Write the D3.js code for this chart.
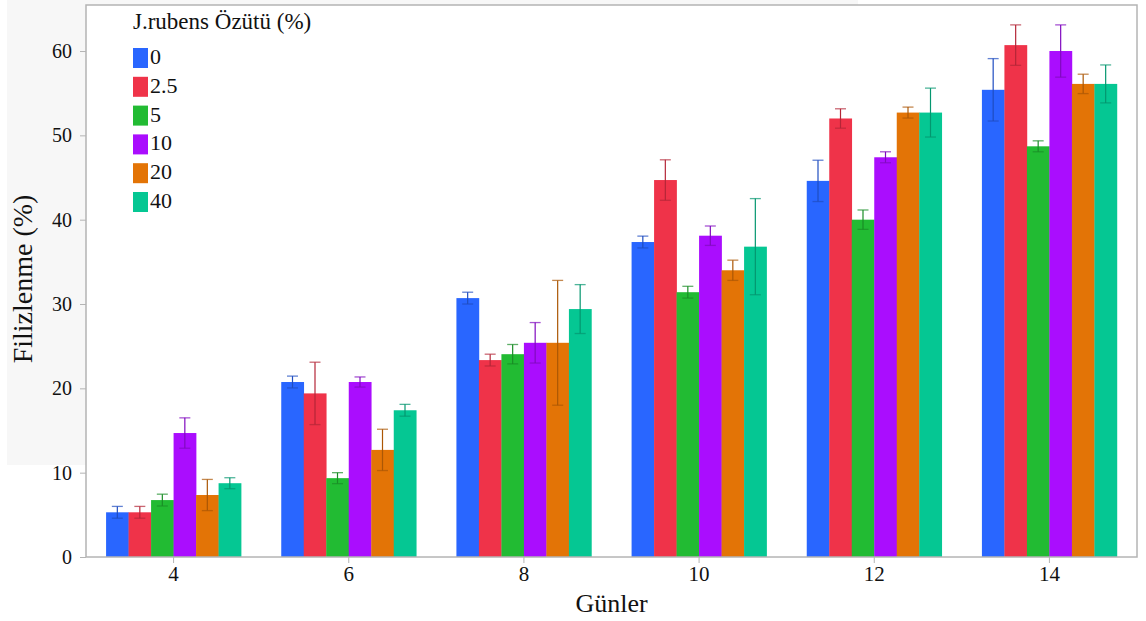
<!DOCTYPE html>
<html><head><meta charset="utf-8">
<script src="https://cdn.jsdelivr.net/npm/d3@7"></script>
<style>body{margin:0;background:#fff}svg{display:block}</style>
</head><body>
<svg id="c" width="1146" height="621"></svg>
<script>
const days = ["4","6","8","10","12","14"];
const series = ["0","2.5","5","10","20","40"];
const colors = ["#2966FF","#EF3349","#22BB33","#AA0DFE","#E37406","#05C793"];
// mean values per series (index by day)
const v0   = [5.3, 20.75, 30.7, 37.35, 44.6, 55.4];
const v2_5 = [5.3, 19.4, 23.35, 44.7, 52.0, 60.7];
const v5   = [6.75, 9.35, 24.05, 31.4, 40.0, 48.7];
const v10  = [14.7, 20.75, 25.4, 38.1, 47.4, 60.0];
const v20  = [7.35, 12.7, 25.4, 34.0, 52.7, 56.1];
const v40  = [8.75, 17.4, 29.4, 36.8, 52.7, 56.1];
// error (+/-) per series
const e0   = [0.7, 0.7, 0.7, 0.7, 2.45, 3.7];
const e2_5 = [0.7, 3.7, 0.7, 2.4, 1.15, 2.4];
const e5   = [0.7, 0.65, 1.15, 0.7, 1.15, 0.65];
const e10  = [1.8, 0.6, 2.4, 1.15, 0.65, 3.1];
const e20  = [1.85, 2.45, 7.4, 1.2, 0.65, 1.15];
const e40  = [0.65, 0.7, 2.9, 5.7, 2.9, 2.25];
const yTicks = [0,10,20,30,40,50,60];
const values = [v0,v2_5,v5,v10,v20,v40];
const errors = [e0,e2_5,e5,e10,e20,e40];

const svg = d3.select("#c");
const L=86, R=1137, T=5, B=557;
svg.append("rect").attr("x",7).attr("y",0).attr("width",851).attr("height",465).attr("fill","#f7f7f7");
svg.append("rect").attr("x",L).attr("y",T).attr("width",R-L).attr("height",B-T).attr("fill","#fff");

const x0 = d3.scaleBand().domain(days).range([L,R]).padding(0);
const groupW = 135;
const x1 = d3.scaleBand().domain(series).range([0,groupW]).padding(0);
const y = d3.scaleLinear().domain([0,60]).range([B, B-60*8.433]);

const data = [];
days.forEach((d,i)=>series.forEach((s,j)=>data.push({d,s,j,v:values[j][i],e:errors[j][i]})));

const g = svg.append("g");
const gx = d => x0(d) + (x0.bandwidth()-groupW)/2;
g.selectAll("rect.bar").data(data).join("rect").attr("class","bar")
 .attr("x",d=>gx(d.d)+x1(d.s)).attr("width",x1.bandwidth()+0.3)
 .attr("y",d=>y(d.v)).attr("height",d=>B-y(d.v)).attr("fill",d=>colors[d.j]);

const eg = g.selectAll("g.err").data(data).join("g").attr("class","err");
eg.each(function(d){
  const cx = gx(d.d)+x1(d.s)+x1.bandwidth()/2;
  const col = d3.color(colors[d.j]).darker(0.8).formatHex();
  const s = d3.select(this);
  s.append("line").attr("x1",cx).attr("x2",cx).attr("y1",y(d.v+d.e)).attr("y2",y(d.v-d.e)).attr("stroke",col).attr("stroke-width",1.2);
  s.append("line").attr("x1",cx-5.5).attr("x2",cx+5.5).attr("y1",y(d.v+d.e)).attr("y2",y(d.v+d.e)).attr("stroke",col).attr("stroke-width",1.3).attr("stroke-opacity",0.7);
  s.append("line").attr("x1",cx-5.5).attr("x2",cx+5.5).attr("y1",y(d.v-d.e)).attr("y2",y(d.v-d.e)).attr("stroke",col).attr("stroke-width",1.3).attr("stroke-opacity",0.7);
});

// frame
svg.append("rect").attr("x",L).attr("y",T).attr("width",R-L).attr("height",B-T).attr("fill","none").attr("stroke","#b4b4b4").attr("stroke-width",1.5);

const font = "'Liberation Serif','Times New Roman',serif";
const ya = svg.append("g").attr("transform",`translate(${L},0)`).call(d3.axisLeft(y).tickValues(yTicks).tickSize(6).tickPadding(8).tickFormat(d3.format("d")));
ya.select(".domain").remove();
ya.selectAll("line").attr("stroke","#b4b4b4");
ya.selectAll("text").attr("font-family",font).attr("font-size",20).attr("fill","#111");

const xa = svg.append("g").attr("transform",`translate(0,${B})`).call(d3.axisBottom(x0).tickSize(6).tickPadding(3));
xa.select(".domain").remove();
xa.selectAll("line").attr("stroke","#b4b4b4");
xa.selectAll("text").attr("font-family",font).attr("font-size",21).attr("fill","#111");

svg.append("text").attr("transform","translate(32,279) rotate(-90)").attr("text-anchor","middle")
 .attr("font-family",font).attr("font-size",28).attr("fill","#111").text("Filizlenme (%)");
svg.append("text").attr("x",(L+R)/2).attr("y",612).attr("text-anchor","middle")
 .attr("font-family",font).attr("font-size",26).attr("fill","#111").text("Günler");

// legend
const lg = svg.append("g");
lg.append("text").attr("x",133).attr("y",29).attr("font-family",font).attr("font-size",23).attr("fill","#111").text("J.rubens Özütü (%)");
series.forEach((s,j)=>{
  const cy = 58 + j*28.8;
  lg.append("rect").attr("x",133).attr("y",cy-10).attr("width",15).attr("height",20).attr("fill",colors[j]);
  lg.append("text").attr("x",150).attr("y",cy+6).attr("font-family",font).attr("font-size",22).attr("fill","#111").text(s);
});
</script>
</body></html>
